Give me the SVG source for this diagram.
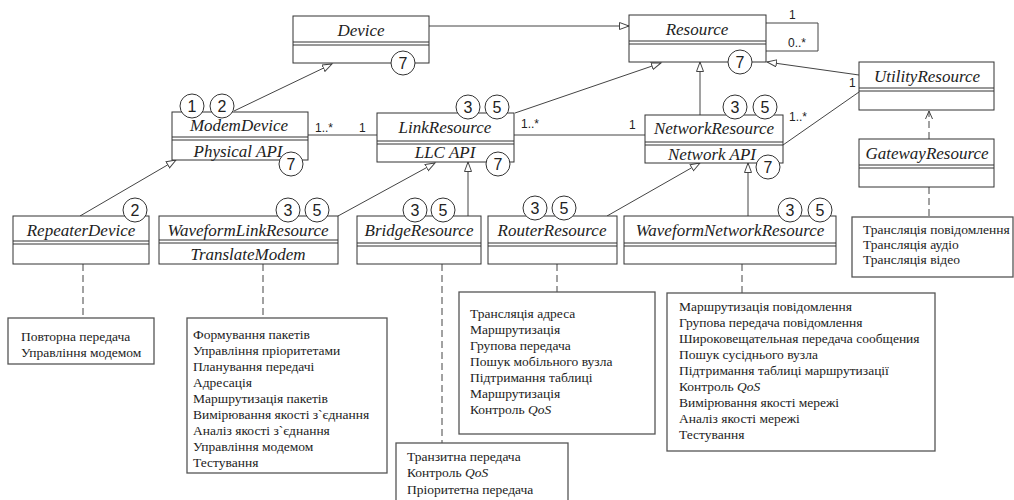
<svg xmlns="http://www.w3.org/2000/svg" width="1014" height="500" viewBox="0 0 1014 500">
<style>
.box{fill:#fff;stroke:#333;stroke-width:1}
.div{stroke:#333;stroke-width:1}
.nm{font-family:"Liberation Serif",serif;font-style:italic;font-size:17px;fill:#222;text-anchor:middle}
.op{font-family:"Liberation Serif",serif;font-style:italic;font-size:17px;fill:#222;text-anchor:middle}
.cl{fill:#fff;stroke:#333;stroke-width:1}
.num{font-family:"Liberation Sans",sans-serif;font-size:16px;fill:#222;text-anchor:middle}
.mul{font-family:"Liberation Sans",sans-serif;font-size:12px;fill:#222}
.ln{fill:none;stroke:#444;stroke-width:1}
.gen{fill:none;stroke:#444;stroke-width:1;marker-end:url(#tri)}
.dash{fill:none;stroke:#444;stroke-width:1;stroke-dasharray:7,4}
.note{fill:#fff;stroke:#555;stroke-width:1.3}
.nt{font-family:"Liberation Serif",serif;font-size:13.5px;fill:#222}
.it{font-style:italic}
</style>
<defs>
<marker id="tri" markerUnits="userSpaceOnUse" markerWidth="12" markerHeight="10" refX="10" refY="4" orient="auto">
<path d="M0.5,0.5 L10,4 L0.5,7.5 z" fill="#fff" stroke="#444" stroke-width="1"/>
</marker>
<marker id="vee" markerUnits="userSpaceOnUse" markerWidth="10" markerHeight="10" refX="8" refY="4" orient="auto">
<path d="M0,0.5 L8,4 L0,7.5" fill="none" stroke="#444" stroke-width="1"/>
</marker>
</defs>

<g id="connectors">
<line class="gen" x1="429" y1="26" x2="629" y2="26"/>
<line class="gen" x1="234" y1="111" x2="332" y2="64"/>
<line class="gen" x1="515" y1="113" x2="661" y2="63"/>
<line class="gen" x1="700" y1="115" x2="700" y2="62"/>
<line class="gen" x1="859" y1="75" x2="767" y2="62"/>
<line class="gen" x1="80" y1="216" x2="176" y2="160"/>
<line class="gen" x1="338" y1="216" x2="435" y2="163"/>
<line class="gen" x1="468" y1="216" x2="468" y2="162"/>
<line class="gen" x1="607" y1="216" x2="700" y2="163"/>
<line class="gen" x1="748" y1="216" x2="748" y2="163"/>
<line class="dash" x1="929" y1="139" x2="929" y2="111" marker-end="url(#vee)"/>
<line class="ln" x1="308" y1="135" x2="377" y2="135"/>
<line class="ln" x1="514" y1="135" x2="645" y2="135"/>
<line class="ln" x1="783" y1="145" x2="859" y2="92"/>
<polyline class="ln" points="766,23 818,23 818,51 766,51"/>
<line class="dash" x1="83" y1="264" x2="83" y2="318"/>
<line class="dash" x1="263" y1="264" x2="263" y2="318"/>
<line class="dash" x1="442" y1="264" x2="442" y2="443"/>
<line class="dash" x1="557" y1="264" x2="557" y2="292"/>
<line class="dash" x1="742" y1="264" x2="742" y2="293"/>
<line class="dash" x1="929" y1="187" x2="929" y2="217"/>
<text class="mul" x="315" y="132">1..*</text>
<text class="mul" x="359" y="132">1</text>
<text class="mul" x="521" y="128">1..*</text>
<text class="mul" x="629" y="129">1</text>
<text class="mul" x="789" y="121">1..*</text>
<text class="mul" x="849" y="87">1</text>
<text class="mul" x="789" y="19">1</text>
<text class="mul" x="788" y="47">0..*</text>
</g>

<g id="Device">
<rect class="box" x="293" y="16" width="136" height="47"/>
<line class="div" x1="293" y1="42" x2="429" y2="42"/>
<line class="div" x1="293" y1="45" x2="429" y2="45"/>
<text class="nm" x="361" y="36">Device</text>
<circle class="cl" cx="403" cy="63" r="12"/><text class="num" x="403" y="69">7</text>
</g>

<g id="Resource">
<rect class="box" x="629" y="15" width="137" height="47"/>
<line class="div" x1="629" y1="41" x2="766" y2="41"/>
<line class="div" x1="629" y1="44" x2="766" y2="44"/>
<text class="nm" x="697" y="35">Resource</text>
<circle class="cl" cx="740" cy="62" r="12"/><text class="num" x="740" y="68">7</text>
</g>

<g id="ModemDevice">
<rect class="box" x="172" y="112" width="136" height="48"/>
<line class="div" x1="172" y1="137" x2="308" y2="137"/>
<line class="div" x1="172" y1="140" x2="308" y2="140"/>
<text class="nm" x="239" y="131">ModemDevice</text>
<text class="op" x="238" y="157">Physical API</text>
<circle class="cl" cx="192" cy="106" r="12"/><text class="num" x="192" y="112">1</text>
<circle class="cl" cx="222" cy="106" r="12"/><text class="num" x="222" y="112">2</text>
<circle class="cl" cx="291" cy="164" r="12"/><text class="num" x="291" y="170">7</text>
</g>

<g id="LinkResource">
<rect class="box" x="377" y="113" width="137" height="49"/>
<line class="div" x1="377" y1="141" x2="514" y2="141"/>
<line class="div" x1="377" y1="144" x2="514" y2="144"/>
<text class="nm" x="445" y="133">LinkResource</text>
<text class="op" x="445" y="158">LLC API</text>
<circle class="cl" cx="468" cy="107" r="12"/><text class="num" x="468" y="113">3</text>
<circle class="cl" cx="497" cy="107" r="12"/><text class="num" x="497" y="113">5</text>
<circle class="cl" cx="498" cy="164" r="12"/><text class="num" x="498" y="170">7</text>
</g>

<g id="NetworkResource">
<rect class="box" x="645" y="115" width="138" height="48"/>
<line class="div" x1="645" y1="142" x2="783" y2="142"/>
<line class="div" x1="645" y1="145" x2="783" y2="145"/>
<text class="nm" x="714" y="134">NetworkResource</text>
<text class="op" x="712" y="160">Network API</text>
<circle class="cl" cx="735" cy="107" r="12"/><text class="num" x="735" y="113">3</text>
<circle class="cl" cx="765" cy="107" r="12"/><text class="num" x="765" y="113">5</text>
<circle class="cl" cx="768" cy="167" r="12"/><text class="num" x="768" y="173">7</text>
</g>

<g id="UtilityResource">
<rect class="box" x="859" y="62" width="135" height="48"/>
<line class="div" x1="859" y1="88" x2="994" y2="88"/>
<line class="div" x1="859" y1="91" x2="994" y2="91"/>
<text class="nm" x="927" y="82">UtilityResource</text>
</g>

<g id="GatewayResource">
<rect class="box" x="859" y="139" width="135" height="48"/>
<line class="div" x1="859" y1="165" x2="994" y2="165"/>
<line class="div" x1="859" y1="168" x2="994" y2="168"/>
<text class="nm" x="927" y="159">GatewayResource</text>
</g>

<g id="RepeaterDevice">
<rect class="box" x="13" y="216" width="136" height="48"/>
<line class="div" x1="13" y1="241" x2="149" y2="241"/>
<line class="div" x1="13" y1="244" x2="149" y2="244"/>
<text class="nm" x="81" y="236">RepeaterDevice</text>
<circle class="cl" cx="135" cy="210" r="12"/><text class="num" x="135" y="216">2</text>
</g>

<g id="WaveformLinkResource">
<rect class="box" x="159" y="216" width="179" height="48"/>
<line class="div" x1="159" y1="240" x2="338" y2="240"/>
<line class="div" x1="159" y1="243" x2="338" y2="243"/>
<text class="nm" x="248" y="236">WaveformLinkResource</text>
<text class="op" x="248" y="260">TranslateModem</text>
<circle class="cl" cx="288" cy="210" r="12"/><text class="num" x="288" y="216">3</text>
<circle class="cl" cx="317" cy="210" r="12"/><text class="num" x="317" y="216">5</text>
</g>

<g id="BridgeResource">
<rect class="box" x="357" y="216" width="124" height="48"/>
<line class="div" x1="357" y1="243" x2="481" y2="243"/>
<line class="div" x1="357" y1="246" x2="481" y2="246"/>
<text class="nm" x="419" y="236">BridgeResource</text>
<circle class="cl" cx="415" cy="210" r="12"/><text class="num" x="415" y="216">3</text>
<circle class="cl" cx="443" cy="210" r="12"/><text class="num" x="443" y="216">5</text>
</g>

<g id="RouterResource">
<rect class="box" x="488" y="216" width="129" height="48"/>
<line class="div" x1="488" y1="243" x2="617" y2="243"/>
<line class="div" x1="488" y1="246" x2="617" y2="246"/>
<text class="nm" x="552" y="236">RouterResource</text>
<circle class="cl" cx="535" cy="208" r="12"/><text class="num" x="535" y="214">3</text>
<circle class="cl" cx="564" cy="208" r="12"/><text class="num" x="564" y="214">5</text>
</g>

<g id="WaveformNetworkResource">
<rect class="box" x="624" y="216" width="212" height="48"/>
<line class="div" x1="624" y1="243" x2="836" y2="243"/>
<line class="div" x1="624" y1="246" x2="836" y2="246"/>
<text class="nm" x="730" y="236">WaveformNetworkResource</text>
<circle class="cl" cx="790" cy="210" r="12"/><text class="num" x="790" y="216">3</text>
<circle class="cl" cx="820" cy="210" r="12"/><text class="num" x="820" y="216">5</text>
</g>

<g id="note-repeater">
<rect class="note" x="8" y="318" width="146" height="46"/>
<text class="nt" x="21" y="341">Повторна передача</text>
<text class="nt" x="21" y="357">Управління модемом</text>
</g>

<g id="note-waveformlink">
<rect class="note" x="187" y="318" width="200" height="155"/>
<text class="nt" x="193" y="339">Формування пакетів</text>
<text class="nt" x="193" y="355">Управління пріоритетами</text>
<text class="nt" x="193" y="371">Планування передачі</text>
<text class="nt" x="193" y="387">Адресація</text>
<text class="nt" x="193" y="403">Маршрутизація пакетів</text>
<text class="nt" x="193" y="419">Вимірювання якості з`єднання</text>
<text class="nt" x="193" y="435">Аналіз якості з`єднання</text>
<text class="nt" x="193" y="451">Управління модемом</text>
<text class="nt" x="193" y="467">Тестування</text>
</g>

<g id="note-bridge">
<rect class="note" x="396" y="443" width="172" height="64"/>
<text class="nt" x="407" y="461">Транзитна передача</text>
<text class="nt" x="407" y="477">Контроль <tspan class="it">QoS</tspan></text>
<text class="nt" x="407" y="494">Пріоритетна передача</text>
</g>

<g id="note-router">
<rect class="note" x="459" y="292" width="196" height="142"/>
<text class="nt" x="470" y="318">Трансляція адреса</text>
<text class="nt" x="470" y="334">Маршрутизація</text>
<text class="nt" x="470" y="350">Групова передача</text>
<text class="nt" x="470" y="366">Пошук мобільного вузла</text>
<text class="nt" x="470" y="382">Підтримання таблиці</text>
<text class="nt" x="470" y="398">Маршрутизація</text>
<text class="nt" x="470" y="414">Контроль <tspan class="it">QoS</tspan></text>
</g>

<g id="note-waveformnetwork">
<rect class="note" x="667" y="293" width="268" height="158"/>
<text class="nt" x="679" y="311">Маршрутизація повідомлення</text>
<text class="nt" x="679" y="327">Групова передача повідомлення</text>
<text class="nt" x="679" y="343">Широковещательная передача сообщения</text>
<text class="nt" x="679" y="359">Пошук сусіднього вузла</text>
<text class="nt" x="679" y="375">Підтримання таблиці маршрутизації</text>
<text class="nt" x="679" y="391">Контроль <tspan class="it">QoS</tspan></text>
<text class="nt" x="679" y="407">Вимірювання якості мережі</text>
<text class="nt" x="679" y="423">Аналіз якості мережі</text>
<text class="nt" x="679" y="439">Тестування</text>
</g>

<g id="note-gateway">
<rect class="note" x="852" y="217" width="161" height="60"/>
<text class="nt" x="863" y="234">Трансляція повідомлення</text>
<text class="nt" x="863" y="249">Трансляція аудіо</text>
<text class="nt" x="863" y="264">Трансляція відео</text>
</g>
</svg>
